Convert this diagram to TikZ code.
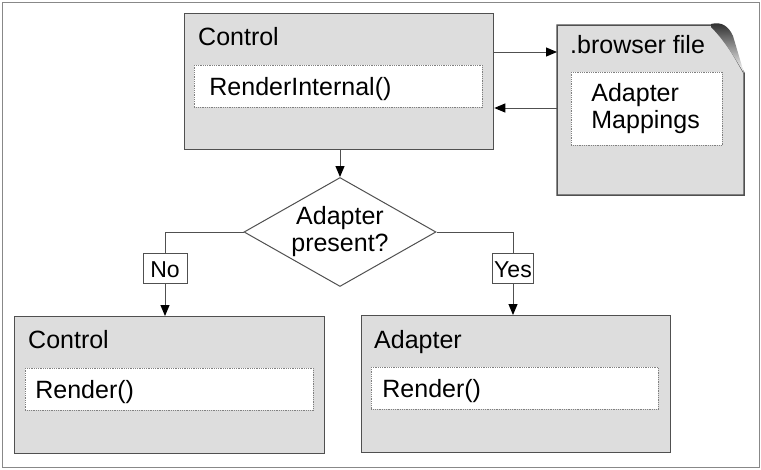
\documentclass[tikz,border=0pt]{standalone}
\usepackage{fontspec}
\setmainfont{Liberation Sans}
\usetikzlibrary{shapes.geometric,arrows.meta,calc}
\definecolor{boxfill}{RGB}{221,221,221}
\definecolor{edge}{RGB}{80,80,80}
\definecolor{framec}{RGB}{136,136,136}
\begin{document}
\begin{tikzpicture}[x=1pt,y=-1pt,
  font=\fontsize{25}{27}\selectfont,
  bigbox/.style={rectangle, draw=edge, line width=1.3pt, fill=boxfill, anchor=north west, inner sep=0pt},
  title/.style={anchor=base west, inner sep=0pt},
  slot/.style={rectangle, draw=gray, densely dotted, line width=0.8pt, fill=white, anchor=north west, inner ysep=0pt, align=left},
  oneline/.style={text height=17.5pt, text depth=0pt},
  decision/.style={diamond, draw=edge, line width=1pt, inner sep=0pt, minimum width=192pt, minimum height=109pt, aspect=1.76, align=center},
  tag/.style={rectangle, draw=edge, line width=1pt, fill=white, inner xsep=1pt, inner ysep=0pt, minimum height=30pt, text height=19pt, text depth=0pt, font=\fontsize{23}{27}\selectfont},
  link/.style={draw=edge, line width=1pt},
  arr/.style={link, -{Triangle[length=11pt,width=9pt,color=black]}},
  framebox/.style={draw=framec, line width=1pt}]
\useasboundingbox (0,0) rectangle (761,469);
\draw[framebox] (2,2) rectangle (759,467);

% top control
\node[bigbox, minimum width=309pt, minimum height=136pt] (ctrl) at (184,13) {};
\node[title] (ctrlT) at (198,45) {Control};
\node[slot, oneline, inner xsep=15pt, text width=258pt, minimum height=42pt] (ri) at (194,65) {RenderInternal()};

% browser file
\node[anchor=north west, minimum width=187pt, minimum height=170pt, inner sep=0pt] (file) at (557,25) {};
\path[draw=edge, line width=1.5pt, fill=boxfill] (557,25) -- (712,25) .. controls (724,38) and (734,55) .. (744,73) -- (744,195) -- (557,195) -- cycle;
\shade[top color=black!85, middle color=gray!70, bottom color=white] (711,24) .. controls (722,21) and (729,27) .. (733,36) -- (744,73) .. controls (735,58) and (724,40) .. (711,27) -- cycle;
\node[title] (fileT) at (570,53) {.browser file};
\node[slot, inner xsep=20pt, text width=111pt, minimum height=73pt] (map) at (571,72) {Adapter\\Mappings};

% decision
\node[decision] (q) at (340,232) {Adapter\\present?};

% bottom left control
\node[bigbox, minimum width=310pt, minimum height=137pt] (lbox) at (14,316) {};
\node[title] (lboxT) at (28,348) {Control};
\node[slot, oneline, inner xsep=10pt, text width=268pt, minimum height=42pt] (lr) at (25,368) {Render()};

% bottom right adapter
\node[bigbox, minimum width=309pt, minimum height=137pt] (rbox) at (361,315) {};
\node[title] (rboxT) at (374,348) {Adapter};
\node[slot, oneline, inner xsep=11pt, text width=265pt, minimum height=42pt] (rr) at (371,367) {Render()};

% tags
\node[tag, minimum width=44pt] (no) at (165,268) {No};
\node[tag, minimum width=41pt] (yes) at (513,268) {Yes};

% connectors
\draw[arr] (ctrl.east |- 0,52) -- (file.west |- 0,52);
\draw[arr] (file.west |- 0,108) -- (ctrl.east |- 0,108);
\draw[arr] (q.north |- ctrl.south) -- (q.north);
\draw[link] (q.west) -| (no.north);
\draw[arr] (no.south) -- (no.south |- lbox.north);
\draw[link] (q.east) -| (yes.north);
\draw[arr] (yes.south) -- (yes.south |- rbox.north);
\end{tikzpicture}
\end{document}
